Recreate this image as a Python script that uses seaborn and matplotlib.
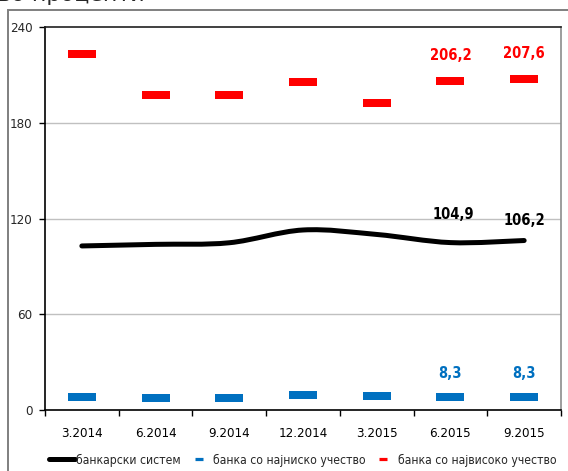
import numpy as np
import pandas as pd
import matplotlib
matplotlib.use("Agg")
import matplotlib.pyplot as plt
import seaborn as sns
from matplotlib.path import Path
from matplotlib.patches import PathPatch, Rectangle
from matplotlib.lines import Line2D

# Quarterly ratios, in percent
quarters = ["3.2014", "6.2014", "9.2014", "12.2014", "3.2015", "6.2015", "9.2015"]
banking_system = [102.8, 103.8, 104.8, 112.8, 110.0, 104.9, 106.2]
lowest_bank = [7.9, 7.8, 7.8, 9.4, 8.8, 8.3, 8.3]
highest_bank = [223.0, 197.4, 197.4, 205.3, 192.4, 206.2, 207.6]
series_names = ["банкарски систем", "банка со најниско учество", "банка со највисоко учество"]
y_ticks = [0, 60, 120, 180, 240]

sns.set_theme(style="white")
plt.rcParams["font.family"] = ["DejaVu Sans"]
plt.rcParams["font.stretch"] = "condensed"

df = pd.DataFrame({
    "quarter": quarters,
    "pos": np.arange(len(quarters)),
    "system": banking_system,
    "low": lowest_bank,
    "high": highest_bank,
})

fig = plt.figure(figsize=(5.68, 4.71), dpi=100)
ax = fig.add_axes([45 / 568, 1 - 410 / 471, 516 / 568, 383 / 471])

# dash-shaped marker (wide, flat rectangle)
dash = [(-3.5, -1), (3.5, -1), (3.5, 1), (-3.5, 1), (-3.5, -1)]

RED = "#ff0000"
BLUE = "#0070c0"

sns.lineplot(data=df, x="pos", y="high", ax=ax, linestyle="none",
             marker=dash, markersize=20, color=RED, markeredgewidth=0)
sns.lineplot(data=df, x="pos", y="low", ax=ax, linestyle="none",
             marker=dash, markersize=20, color=BLUE, markeredgewidth=0)

# smoothed line for the banking system (cubic Bezier through every point)
xs = df["pos"].to_numpy(float)
ys = df["system"].to_numpy(float)
pts = np.column_stack([xs, ys])
verts = [tuple(pts[0])]
codes = [Path.MOVETO]
n = len(pts)
for i in range(n - 1):
    p_prev = pts[max(i - 1, 0)]
    p0 = pts[i]
    p1 = pts[i + 1]
    p_next = pts[min(i + 2, n - 1)]
    c1 = p0 + (p1 - p_prev) / 6.0
    c2 = p1 - (p_next - p0) / 6.0
    verts += [tuple(c1), tuple(c2), tuple(p1)]
    codes += [Path.CURVE4] * 3
ax.add_patch(PathPatch(Path(verts, codes), fill=False, edgecolor="black",
                       lw=3.6, capstyle="round", joinstyle="round", zorder=3))

# value labels for the last two quarters
lab_font = dict(fontsize=10.5, fontweight="bold", ha="center", va="center")
for i in (5, 6):
    ax.annotate(f"{highest_bank[i]:.1f}".replace(".", ","), (i, highest_bank[i]),
                xytext=(0, 18), textcoords="offset points", color=RED, **lab_font)
    ax.annotate(f"{lowest_bank[i]:.1f}".replace(".", ","), (i, lowest_bank[i]),
                xytext=(0, 17), textcoords="offset points", color=BLUE, **lab_font)
ax.annotate(f"{banking_system[5]:.1f}".replace(".", ","), (5, banking_system[5]),
            xytext=(2, 20), textcoords="offset points", color="black", **lab_font)
ax.annotate(f"{banking_system[6]:.1f}".replace(".", ","), (6, banking_system[6]),
            xytext=(0, 14.5), textcoords="offset points", color="black", **lab_font)

# axes
ax.set_xlim(-0.5, len(quarters) - 0.5)
ax.set_ylim(0, 240)
ax.set_yticks(y_ticks)
ax.set_yticklabels([str(v) for v in y_ticks], fontsize=9.5)
ax.set_xticks(df["pos"])
ax.set_xticklabels(quarters, fontsize=9.5)
ax.set_xticks(np.arange(-0.5, len(quarters), 1.0), minor=True)
ax.set_xlabel("")
ax.set_ylabel("")
ax.tick_params(axis="x", which="major", length=0, pad=12, colors="black")
ax.tick_params(axis="x", which="minor", bottom=True, length=4, width=1, color="black")
ax.tick_params(axis="y", which="major", left=True, length=4, width=1, pad=5, color="black")
for v in y_ticks[1:-1]:
    ax.axhline(v, color="#c0c0c0", lw=1, zorder=0)
ax.spines["left"].set_color("black")
ax.spines["bottom"].set_color("black")
ax.spines["top"].set_color("#202020")
ax.spines["right"].set_color("#8c8c8c")
for s in ax.spines.values():
    s.set_linewidth(1.2)

# legend: long line for the system, short dashes for the two banks
handles = [
    Line2D([], [], color="black", lw=3.6, solid_capstyle="round"),
    Line2D([], [], color=BLUE, linestyle="none", marker="_", markersize=6, markeredgewidth=2.3),
    Line2D([], [], color=RED, linestyle="none", marker="_", markersize=6, markeredgewidth=2.3),
]
fig.legend(handles, series_names, loc="center", ncol=3,
           bbox_to_anchor=(0.533, 1 - 460 / 471), frameon=False,
           fontsize=8.7, handlelength=2.1, handletextpad=0.15, columnspacing=0.4,
           borderpad=0, borderaxespad=0)

# outer chart frame and heading
fig.patches.append(Rectangle((7.5 / 568, -0.05), 1.2, 1 - 10 / 471 + 0.05,
                             transform=fig.transFigure, fill=False,
                             edgecolor="#7f7f7f", lw=1.4))
fig.text(-0.004, 1 - 1 / 471, "во проценти", fontsize=16, va="baseline", ha="left",
         family=["DejaVu Sans"], stretch="normal")

fig.savefig("out.png", dpi=100)
